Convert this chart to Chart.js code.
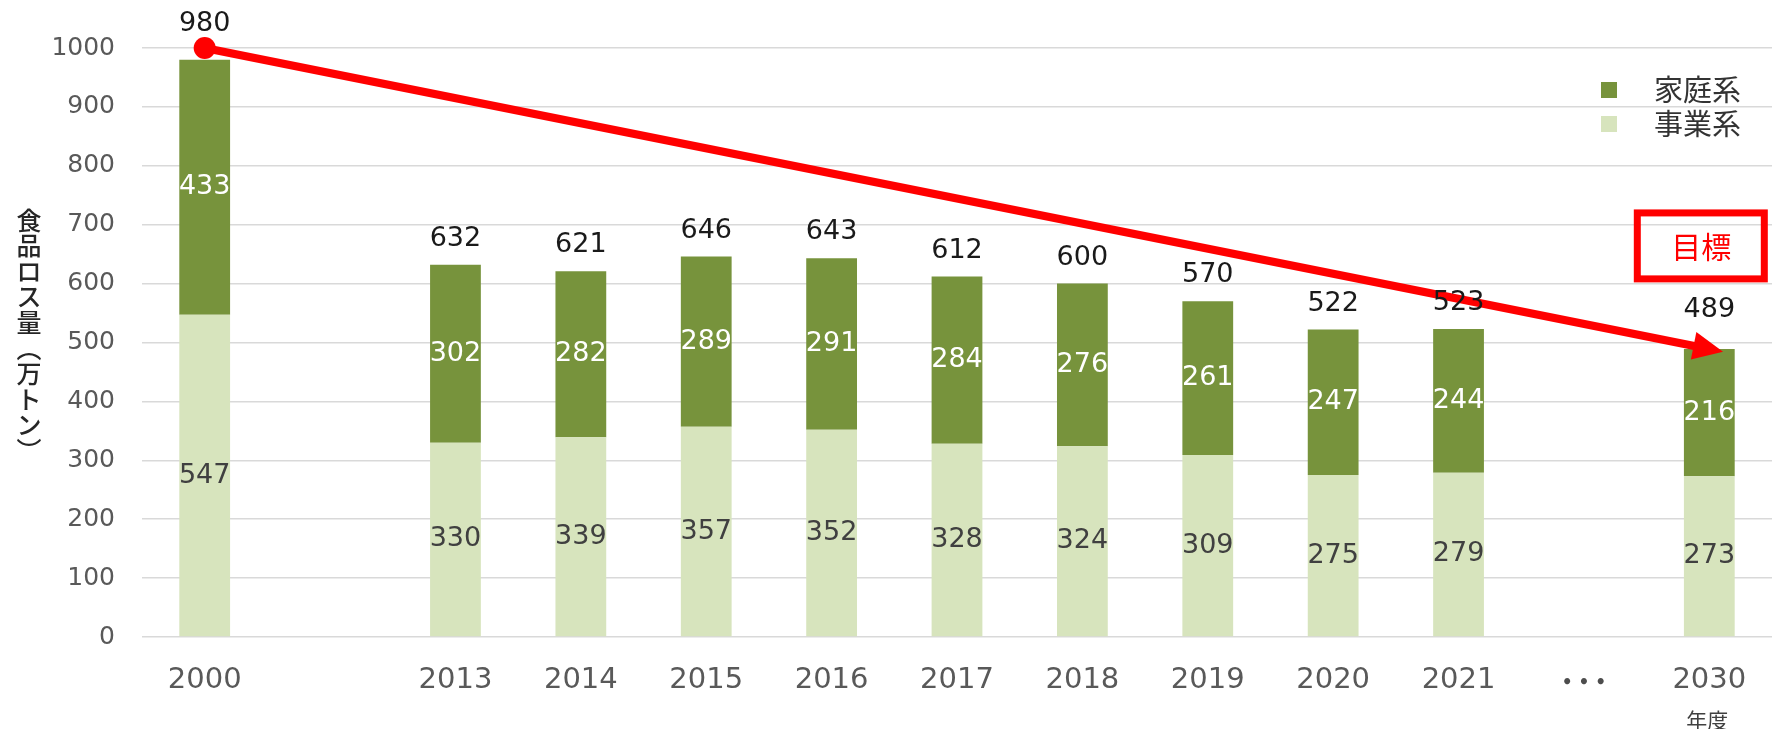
<!DOCTYPE html>
<html lang="ja">
<head>
<meta charset="utf-8">
<title>食品ロス量の推移</title>
<script src="https://cdn.jsdelivr.net/npm/chart.js@4.4.1/dist/chart.umd.min.js"></script>
<style>
    html, body { margin: 0; padding: 0; background: #fff; overflow: hidden; }
    #wrap { width: 1775px; height: 729px; overflow: hidden; }
</style>
</head>
<body>
<div id="wrap"><canvas id="food-loss" width="1783" height="729"></canvas></div>
<script>
// fiscal years (blank slot between 2000 and 2013, ellipsis before the target year)
const years = ['2000', '', '2013', '2014', '2015', '2016', '2017', '2018', '2019', '2020', '2021', '• • •', '2030'];
// 事業系 (business) and 家庭系 (household), 万トン
const business = [547, null, 330, 339, 357, 352, 328, 324, 309, 275, 279, null, 273];
const household = [433, null, 302, 282, 289, 291, 284, 276, 261, 247, 244, null, 216];
// red target arrow: 2000 start -> 2030 target
const targetLine = [1000, null, null, null, null, null, null, null, null, null, null, null, 489];
const yTickValues = [0, 100, 200, 300, 400, 500, 600, 700, 800, 900, 1000];

const seriesNames = ['事業系', '家庭系'];
const colors = {
    business: '#D7E4BD',
    household: '#77933C',
    target: '#FF0000',
    grid: '#D9D9D9',
    tick: '#595959'
};
const yTitle = ['食', '品', 'ロ', 'ス', '量', '︵', '万', 'ト', 'ン', '︶'];
const ellipsis = '• • •';

const numFont = '"DejaVu Sans", "Noto Sans CJK JP", sans-serif';
const jpFont = '"Noto Sans CJK JP", "DejaVu Sans", sans-serif';

// value labels, arrow head, legend, axis titles and the 目標 box
const extrasPlugin = {
    id: 'extras',
    afterDatasetsDraw(chart) {
        const ctx = chart.ctx;
        const xs = chart.scales.x;
        const ys = chart.scales.y;
        const bizMeta = chart.getDatasetMeta(0);
        const homeMeta = chart.getDatasetMeta(1);
        const lineMeta = chart.getDatasetMeta(2);

        // arrow head on the target line end
        const pts = lineMeta.data.filter((p, i) => targetLine[i] != null);
        const p0 = pts[0], p1 = pts[pts.length - 1];
        const dx = p1.x - p0.x, dy = p1.y - p0.y;
        const len = Math.sqrt(dx * dx + dy * dy);
        const ux = dx / len, uy = dy / len;
        const tipX = p1.x + ux * 14, tipY = p1.y + uy * 14;
        const baseX = tipX - ux * 30, baseY = tipY - uy * 30;
        ctx.save();
        ctx.fillStyle = colors.target;
        ctx.beginPath();
        ctx.moveTo(tipX, tipY);
        ctx.lineTo(baseX - uy * 14, baseY + ux * 14);
        ctx.lineTo(baseX + uy * 14, baseY - ux * 14);
        ctx.closePath();
        ctx.fill();
        ctx.restore();

        // numbers in and above the bars
        ctx.save();
        ctx.font = '27px ' + numFont;
        ctx.textAlign = 'center';
        ctx.textBaseline = 'middle';
        years.forEach((yr, i) => {
            if (business[i] == null) return;
            const b = bizMeta.data[i];
            const h = homeMeta.data[i];
            ctx.fillStyle = '#404040';
            ctx.fillText(String(business[i]), b.x, (b.y + b.base) / 2);
            ctx.fillStyle = '#FFFFFF';
            ctx.fillText(String(household[i]), h.x, (h.y + h.base) / 2);
            let top = h.y;
            let gap = 26;
            if (targetLine[i] != null) {
                top = Math.min(top, lineMeta.data[i].y);
                gap = i === years.length - 1 ? 39 : 24;
            }
            ctx.fillStyle = '#1A1A1A';
            ctx.fillText(String(business[i] + household[i]), h.x, top - gap);
        });
        ctx.restore();

        // legend (household first, like the original)
        ctx.save();
        ctx.font = '29px ' + jpFont;
        ctx.textBaseline = 'middle';
        ctx.textAlign = 'left';
        const legendRows = [
            { label: seriesNames[1], color: colors.household },
            { label: seriesNames[0], color: colors.business }
        ];
        legendRows.forEach((row, k) => {
            const cy = 90 + k * 34;
            ctx.fillStyle = row.color;
            ctx.fillRect(1601, cy - 8, 16, 16);
            ctx.fillStyle = '#333333';
            ctx.fillText(row.label, 1654, cy);
        });
        ctx.restore();

        // 目標 box above the 2030 bar
        const tx = xs.getPixelForValue(years.length - 1);
        const boxTop = ys.getPixelForValue(720);
        const boxBottom = ys.getPixelForValue(608);
        ctx.save();
        ctx.strokeStyle = colors.target;
        ctx.lineWidth = 7;
        ctx.strokeRect(tx - 72, boxTop, 127, boxBottom - boxTop);
        ctx.fillStyle = colors.target;
        ctx.font = '30px ' + jpFont;
        ctx.textAlign = 'center';
        ctx.textBaseline = 'middle';
        ctx.fillText('目標', tx - 8, (boxTop + boxBottom) / 2 + 1);
        ctx.restore();

        // ellipsis slot label and 年度 under the last year
        ctx.save();
        ctx.fillStyle = '#4D4D4D';
        ctx.font = 'bold 17px ' + numFont;
        ctx.textAlign = 'center';
        ctx.textBaseline = 'middle';
        const ei = years.indexOf(ellipsis);
        ctx.fillText(ellipsis, xs.getPixelForValue(ei), 684);
        ctx.fillStyle = '#404040';
        ctx.font = '21px ' + jpFont;
        ctx.fillText('年度', tx - 2, 720);
        ctx.restore();

        // vertical y axis title
        ctx.save();
        ctx.fillStyle = '#262626';
        ctx.font = '500 25px ' + jpFont;
        ctx.textAlign = 'center';
        ctx.textBaseline = 'middle';
        yTitle.forEach((ch, k) => {
            ctx.fillText(ch, 29, 220 + k * 25.6);
        });
        ctx.restore();
    }
};

const ctx = document.getElementById('food-loss').getContext('2d');
const chart = new Chart(ctx, {
    type: 'bar',
    data: {
        labels: years,
        datasets: [
            {
                label: seriesNames[0],
                data: business,
                backgroundColor: colors.business,
                stack: 'loss',
                order: 2
            },
            {
                label: seriesNames[1],
                data: household,
                backgroundColor: colors.household,
                stack: 'loss',
                order: 2
            },
            {
                type: 'line',
                label: '目標',
                data: targetLine,
                borderColor: colors.target,
                borderWidth: 8,
                spanGaps: true,
                clip: false,
                stack: 'target',
                pointRadius: c => (c.dataIndex === 0 ? 11 : 0),
                pointBackgroundColor: colors.target,
                pointBorderWidth: 0,
                order: 0
            }
        ]
    },
    options: {
        responsive: false,
        devicePixelRatio: 1,
        animation: false,
        layout: { padding: { top: 48, left: 0, right: 0, bottom: 0 } },
        datasets: {
            bar: { categoryPercentage: 1, barPercentage: 0.405 }
        },
        plugins: {
            legend: { display: false },
            tooltip: { enabled: false }
        },
        scales: {
            x: {
                stacked: true,
                grid: { display: false, drawTicks: false },
                border: { display: false },
                ticks: {
                    color: colors.tick,
                    font: { family: numFont, size: 29 },
                    padding: 26,
                    maxRotation: 0,
                    autoSkip: false,
                    // the ellipsis slot is drawn smaller by the plugin
                    callback: (v, i) => (years[i] === ellipsis ? '' : years[i])
                },
                afterFit(scale) { scale.height = 92; }
            },
            y: {
                stacked: true,
                min: 0,
                max: 1000,
                afterBuildTicks(scale) {
                    scale.ticks = yTickValues.map(v => ({ value: v }));
                },
                grid: { color: colors.grid, lineWidth: 1.5, drawTicks: false },
                border: { display: false },
                ticks: {
                    color: colors.tick,
                    font: { family: numFont, size: 25 },
                    padding: 27,
                    callback: v => String(v)
                },
                afterFit(scale) { scale.width = 142; }
            }
        }
    },
    plugins: [extrasPlugin]
});
</script>
</body>
</html>
